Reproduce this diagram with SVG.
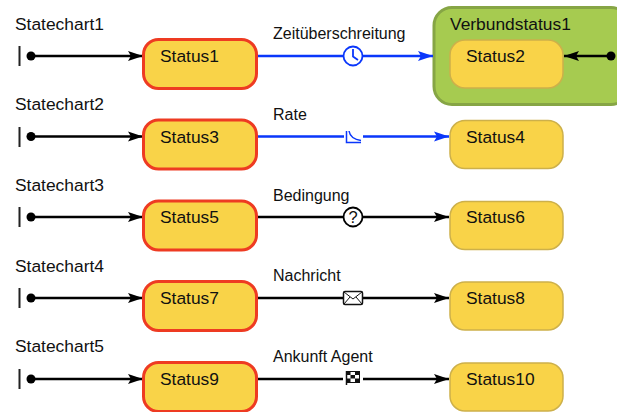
<svg xmlns="http://www.w3.org/2000/svg" width="617" height="412" viewBox="0 0 617 412">
<style>
text{font-family:"Liberation Sans",Arial,sans-serif;font-size:17.4px;fill:#111}
text.t{font-size:16px}
.red{fill:#f9d348;stroke:#ee3b22;stroke-width:3}
.plain{fill:#f9d348;stroke:#cdb04a;stroke-width:1.5}
.comp{fill:#a6cb50;stroke:#86a545;stroke-width:3}
.k{stroke:#000;stroke-width:2.300;fill:none}
.b{stroke:#0a37fb;stroke-width:2.300;fill:none}
.bar{stroke:#222;stroke-width:2}
.dot{fill:#000}
</style>
<defs>
<marker id="ak" markerUnits="userSpaceOnUse" markerWidth="16" markerHeight="12" refX="15" refY="6" orient="auto"><path d="M0 1 L15 6 L0 11 L3 6 Z" fill="#000"/></marker>
<marker id="ab" markerUnits="userSpaceOnUse" markerWidth="16" markerHeight="12" refX="15" refY="6" orient="auto"><path d="M0 1 L15 6 L0 11 L3 6 Z" fill="#0a37fb"/></marker>
</defs>
<g id="composite1"><rect class="comp" x="434" y="7.500" width="195" height="97" rx="18"/><text x="450" y="30">Verbundstatus1</text></g>
<g id="connectors">
<path class="bar" d="M19.500 46V66M19.500 127V147M19.500 207V227M19.500 288V308M19.500 369V389"/>
<circle class="dot" cx="31" cy="56" r="4.500"/><circle class="dot" cx="31" cy="136.500" r="4.500"/><circle class="dot" cx="31" cy="217" r="4.500"/><circle class="dot" cx="31" cy="298" r="4.500"/><circle class="dot" cx="31" cy="379" r="4.500"/>
<path class="k" d="M31 56H143" marker-end="url(#ak)"/>
<path class="k" d="M31 136.500H143" marker-end="url(#ak)"/>
<path class="k" d="M31 217H143" marker-end="url(#ak)"/>
<path class="k" d="M31 298H143" marker-end="url(#ak)"/>
<path class="k" d="M31 379H143" marker-end="url(#ak)"/>
<circle class="dot" cx="611" cy="56" r="4.500"/>
<path class="k" d="M611 56H564" marker-end="url(#ak)"/>
<path class="b" d="M257 56H433" marker-end="url(#ab)"/>
<path class="b" d="M257 136.500H344M363 136.500H449" marker-end="url(#ab)"/>
<path class="k" d="M257 217H449" marker-end="url(#ak)"/>
<path class="k" d="M257 298H449" marker-end="url(#ak)"/>
<path class="k" d="M257 379H343M363 379H449" marker-end="url(#ak)"/>
<circle cx="353" cy="56" r="9.500" fill="#fff" stroke="#0a37fb" stroke-width="1.800"/>
<path d="M353 49V56.500L358 60" fill="none" stroke="#0a37fb" stroke-width="1.800"/>
<path d="M346.500 131V142.500H361M349 131C350 137 354 139.500 361 140.500" fill="none" stroke="#0a37fb" stroke-width="1.500"/>
<circle cx="353" cy="217" r="9.500" fill="#fff" stroke="#000" stroke-width="1.800"/>
<text x="353" y="223" text-anchor="middle" style="font-size:16.500px">?</text>
<rect x="343.500" y="291.500" width="19" height="13" rx="1.500" fill="#fff" stroke="#111" stroke-width="1.500"/>
<path d="M344 292L353 299L362 292M344 304L350 297M362 304L356 297" fill="none" stroke="#111"/>
<rect x="346.500" y="371.500" width="13" height="11" fill="#fff" stroke="#111"/>
<path d="M346.500 371.500h4v3.500h-4zM355 371.500h4.500v3.500h-4.500zM350.500 375h4.500v3.500h-4.500zM346.500 378.500h4v4h-4zM355 378.500h4.500v4h-4.500z" fill="#111"/>
<path d="M346.500 371V385" stroke="#111" stroke-width="1.500"/>
</g>
<g id="s1"><rect class="red" x="143.500" y="39.500" width="113" height="49" rx="15"/><text x="160" y="62">Status1</text></g>
<g id="s2"><rect class="plain" x="450" y="40" width="113" height="48" rx="15"/><text x="466" y="62">Status2</text></g>
<g id="s3"><rect class="red" x="143.500" y="120" width="113" height="49" rx="15"/><text x="160" y="143">Status3</text></g>
<g id="s4"><rect class="plain" x="450" y="120.500" width="113" height="48" rx="15"/><text x="466" y="143">Status4</text></g>
<g id="s5"><rect class="red" x="143.500" y="201" width="113" height="49" rx="15"/><text x="160" y="223">Status5</text></g>
<g id="s6"><rect class="plain" x="450" y="201.500" width="113" height="48" rx="15"/><text x="466" y="223">Status6</text></g>
<g id="s7"><rect class="red" x="143.500" y="281.500" width="113" height="49" rx="15"/><text x="160" y="304">Status7</text></g>
<g id="s8"><rect class="plain" x="450" y="282" width="113" height="48" rx="15"/><text x="466" y="304">Status8</text></g>
<g id="s9"><rect class="red" x="143.500" y="362.500" width="113" height="49" rx="15"/><text x="160" y="385">Status9</text></g>
<g id="s10"><rect class="plain" x="450" y="363" width="113" height="48" rx="15"/><text x="466" y="385">Status10</text></g>
<g id="labels">
<text x="15" y="30">Statechart1</text><text x="15" y="110">Statechart2</text><text x="15" y="191">Statechart3</text><text x="15" y="272">Statechart4</text><text x="15" y="352">Statechart5</text>
<text class="t" x="273" y="39">Zeitüberschreitung</text><text class="t" x="273" y="120">Rate</text><text class="t" x="273" y="201">Bedingung</text><text class="t" x="273" y="281">Nachricht</text><text class="t" x="273" y="362">Ankunft Agent</text>
</g>
</svg>
